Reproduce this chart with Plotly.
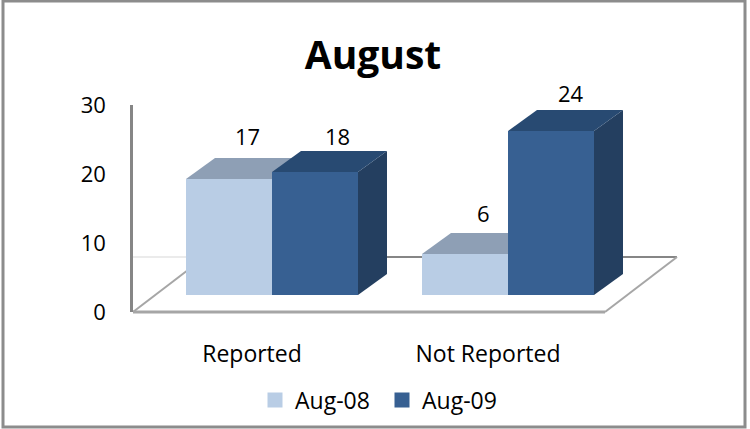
import plotly.graph_objects as go

categories = ["Reported", "Not Reported"]
series_names = ["Aug-08", "Aug-09"]
aug_08 = [17, 6]
aug_09 = [18, 24]
y_ticks = [0, 10, 20, 30]

FONT = "Open Sans"
W, H = 750, 429
ML, MR, MT, MB = 133, 60, 90, 99
PX_X = 236.0          # px per category
PX_Y = 6.83           # px per value unit (front plane)
BASE_PX = 295         # page y of the value 0 on the front plane
ZERO_X_PX = 272       # page x of the first category
BAR = 86 / PX_X
DX = 29 / PX_X        # bar depth
DY = 21 / PX_Y
FRONT_Y = -17 / PX_Y  # floor front edge
BACK_Y = 38 / PX_Y    # floor back edge
X_LEFT = (ML - ZERO_X_PX) / PX_X
X_RIGHT = (605 - ZERO_X_PX) / PX_X
FLOOR_DX = 72 / PX_X

x_range = [X_LEFT, (W - MR - ZERO_X_PX) / PX_X]
y_range = [(BASE_PX - (H - MB)) / PX_Y, (BASE_PX - MT) / PX_Y]

pos = list(range(len(categories)))
LIGHT, LIGHT_TOP, LIGHT_SIDE = "#B9CDE5", "#8E9FB5", "#7F90A6"
DARK, DARK_TOP, DARK_SIDE = "#376092", "#284A72", "#243F60"


def poly(pts, color):
    path = "M " + " L ".join(f"{x:.4f},{y:.4f}" for x, y in pts) + " Z"
    return dict(type="path", path=path, xref="x", yref="y", fillcolor=color,
                line=dict(width=0), layer="below")


def seg(x0, y0, x1, y1, color, width):
    return dict(type="line", x0=x0, y0=y0, x1=x1, y1=y1, xref="x", yref="y",
                line=dict(color=color, width=width), layer="below")


shapes = [
    seg(X_LEFT, BACK_Y, X_LEFT + FLOOR_DX, BACK_Y, "#E4E4E4", 1.5),
    seg(X_LEFT + FLOOR_DX, BACK_Y, X_RIGHT + FLOOR_DX, BACK_Y, "#868686", 2),
    seg(X_LEFT, FRONT_Y, X_LEFT + FLOOR_DX, BACK_Y, "#A6A6A6", 2),
    seg(X_RIGHT, FRONT_Y, X_RIGHT + FLOOR_DX, BACK_Y, "#A6A6A6", 2),
    seg(X_LEFT, FRONT_Y, X_RIGHT, FRONT_Y, "#A6A6A6", 3),
]

for vals, left, top_c, side_c in [(aug_08, -BAR, LIGHT_TOP, LIGHT_SIDE),
                                  (aug_09, 0, DARK_TOP, DARK_SIDE)]:
    for i, v in zip(pos, vals):
        a, b = i + left, i + left + BAR
        shapes.append(poly([(b, 0), (b + DX, DY), (b + DX, v + DY), (b, v)], side_c))
        shapes.append(poly([(a, v), (a + DX, v + DY), (b + DX, v + DY), (b, v)], top_c))

pw, ph = W - ML - MR, H - MT - MB
shapes.append(dict(type="rect", xref="paper", yref="paper",
                   x0=(3 - ML) / pw, x1=(745 - ML) / pw,
                   y0=(H - MB - 427) / ph, y1=(H - MB - 1) / ph,
                   line=dict(color="#8C8C8C", width=3), fillcolor="rgba(0,0,0,0)", layer="below"))

fig = go.Figure()
fig.add_bar(x=pos, y=aug_08, name=series_names[0], showlegend=False, marker=dict(color=LIGHT, line=dict(width=0)))
fig.add_bar(x=pos, y=aug_09, name=series_names[1], showlegend=False, marker=dict(color=DARK, line=dict(width=0)))
fig.add_scatter(x=[None], y=[None], yaxis="y2", showlegend=False, hoverinfo="skip")
for name, color in zip(series_names, [LIGHT, DARK]):
    fig.add_scatter(x=[None], y=[None], mode="markers", name=name,
                    marker=dict(symbol="square", size=15, color=color, line=dict(width=0)))

label_shift_x = [[18, 18], [22, 20]]
label_shift_y = [[43, 41], [36, 38]]
annotations = []
for s, (vals, left) in enumerate([(aug_08, -BAR / 2), (aug_09, BAR / 2)]):
    for i, v in zip(pos, vals):
        annotations.append(dict(x=i + left, y=v, xref="x", yref="y", text=str(v), showarrow=False,
                                xshift=label_shift_x[s][i], yshift=label_shift_y[s][i],
                                yanchor="middle", font=dict(family=FONT, size=22, color="black")))

fig.update_layout(
    width=W, height=H, autosize=False,
    margin=dict(l=ML, r=MR, t=MT, b=MB, pad=0, autoexpand=False),
    paper_bgcolor="white", plot_bgcolor="rgba(0,0,0,0)",
    barmode="group", bargap=1 - 2 * BAR, bargroupgap=0,
    title=dict(text="<b>August</b>", x=373 / W, xanchor="center", xref="container",
               y=1 - 55 / H, yanchor="middle", yref="container",
               font=dict(family=FONT, size=39, color="black")),
    font=dict(family=FONT, color="black", size=22),
    xaxis=dict(range=x_range, tickvals=pos, ticktext=categories, showgrid=False, zeroline=False,
               showline=False, ticks="", ticklabelshift=-20, ticklabelstandoff=8,
               tickfont=dict(family=FONT, size=23)),
    yaxis=dict(range=y_range, visible=False, showgrid=False, zeroline=False),
    yaxis2=dict(domain=[(H - MB - 312) / ph, (H - MB - 105) / ph],
                range=[y_ticks[0], y_ticks[-1]], tickvals=y_ticks, showgrid=False, zeroline=False,
                showline=True, linecolor="#868686", linewidth=2.5, ticks="", anchor="x", side="left",
                ticklabelstandoff=20, tickfont=dict(family=FONT, size=22)),
    legend=dict(orientation="h", x=255 / W, xref="container", xanchor="left", y=1 - 400 / H, yref="container",
                yanchor="middle", font=dict(family=FONT, size=23), bgcolor="rgba(0,0,0,0)",
                entrywidth=82, entrywidthmode="pixels", itemsizing="trace",
                itemclick=False, itemdoubleclick=False),
    shapes=shapes, annotations=annotations, showlegend=True,
)
fig.write_html("out.html", config={"displayModeBar": False},
               post_script="document.body.style.margin='0';")
